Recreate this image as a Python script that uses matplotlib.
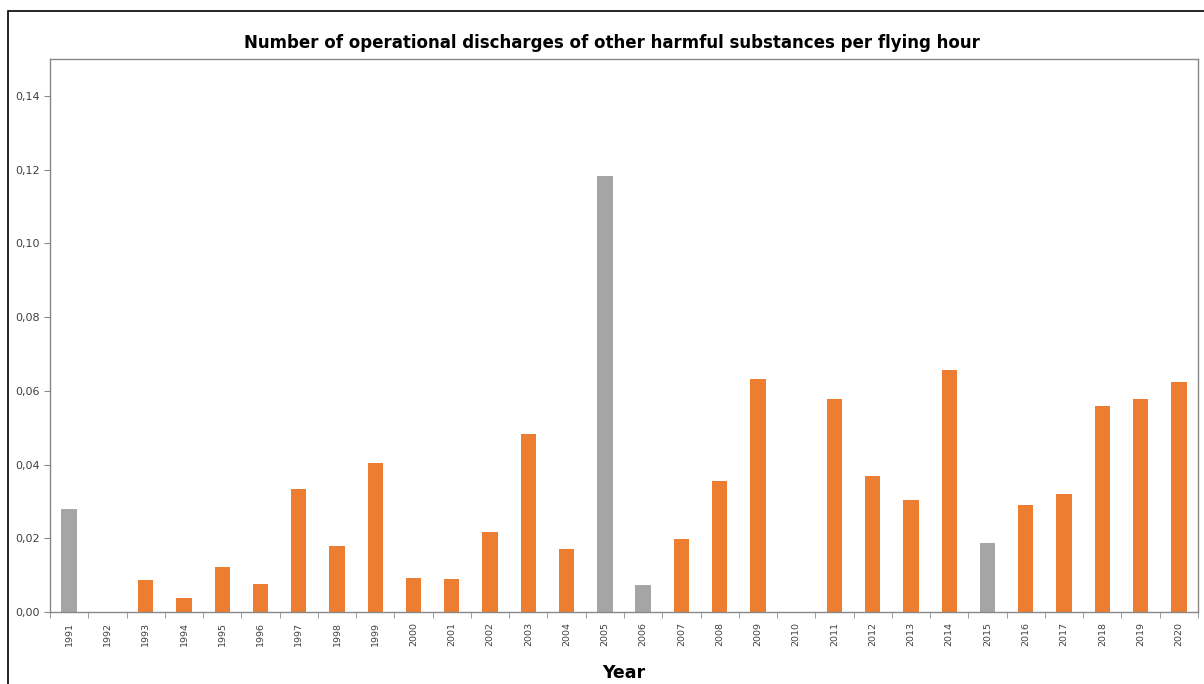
import matplotlib.pyplot as plt
import numpy as np
from matplotlib.patches import Rectangle

# data
years = list(range(1991, 2021))
values = [0.0280, 0.0, 0.0087, 0.0039, 0.0123, 0.0077, 0.0334, 0.0178, 0.0405, 0.0093,
          0.0090, 0.0216, 0.0482, 0.0172, 0.1182, 0.0073, 0.0198, 0.0354, 0.0632, 0.0,
          0.0578, 0.0368, 0.0303, 0.0657, 0.0188, 0.0291, 0.0321, 0.0558, 0.0578, 0.0624]
grey_years = [1991, 2005, 2006, 2015]
y_ticks = [0.00, 0.02, 0.04, 0.06, 0.08, 0.10, 0.12, 0.14]

orange = "#ED7D31"
grey = "#A5A5A5"
colors = [grey if y in grey_years else orange for y in years]

fig = plt.figure(figsize=(12.04, 6.84), dpi=100)
# outer frame of the chart area (cut on the right/bottom in the reference)
fig.patches.append(Rectangle((8 / 1204, -0.01), 1.2, 1 - 11 / 684 + 0.01,
                             transform=fig.transFigure, fill=False,
                             edgecolor="black", linewidth=1.2))

ax = fig.add_axes([50 / 1204, 1 - 612 / 684, (1198 - 50) / 1204, (612 - 59) / 684])
x = np.arange(len(years))
ax.bar(x, values, width=0.4, color=colors)

ax.set_xlim(-0.5, len(years) - 0.5)
ax.set_ylim(0, 0.15)
ax.set_yticks(y_ticks)
ax.set_yticklabels([f"{v:.2f}".replace(".", ",") for v in y_ticks],
                   fontsize=8, color="#404040")
ax.set_xticks(x)
ax.set_xticklabels([str(y) for y in years], rotation=90, fontsize=6.8, color="#404040")
ax.set_xticks(np.arange(-0.5, len(years)), minor=True)
ax.tick_params(axis="x", which="major", length=0, pad=7)
ax.tick_params(axis="x", which="minor", length=4, color="#888888")
ax.tick_params(axis="y", length=4, color="#888888")
for sp in ax.spines.values():
    sp.set_color("#888888")
    sp.set_linewidth(1)

ax.set_xlabel("Year", fontsize=12.5, fontweight="bold", labelpad=13)
fig.text(0.508, 1 - 43 / 684, "Number of operational discharges of other harmful substances per flying hour",
         ha="center", va="center", fontsize=12, fontweight="bold")

fig.savefig("out.png", dpi=100)
